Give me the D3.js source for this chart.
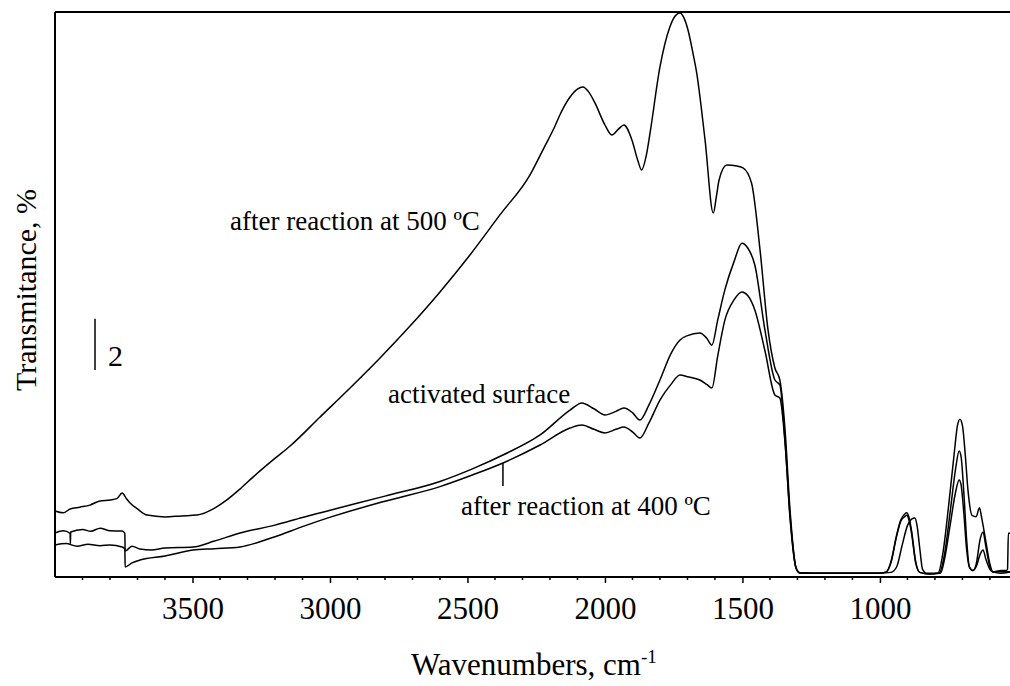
<!DOCTYPE html>
<html>
<head>
<meta charset="utf-8">
<script src="https://cdn.jsdelivr.net/npm/d3@7"></script>
<style>
  body { margin: 0; background: #fff; }
  text { font-family: "Liberation Serif", "Times New Roman", serif; fill: #000; }
</style>
</head>
<body>
<script>
// IR spectra, transmittance (%) vs wavenumber (cm-1)

var after500 = [
  [4000, 2.57], [3970, 2.50], [3945, 2.65], [3910, 2.72], [3873, 2.80], [3840, 2.95],
  [3800, 3.00], [3775, 3.05], [3756, 3.27], [3740, 3.05], [3727, 2.88], [3700, 2.65],
  [3665, 2.41], [3600, 2.34], [3540, 2.38], [3484, 2.41], [3418, 2.69], [3375, 3.00],
  [3330, 3.40], [3280, 3.89], [3207, 4.56], [3145, 5.10], [3036, 6.23], [2927, 7.36],
  [2818, 8.53], [2709, 9.77], [2600, 11.10], [2491, 12.54], [2382, 14.10], [2273, 15.65],
  [2220, 16.75], [2182, 17.55], [2164, 17.99], [2127, 18.69], [2100, 19.00], [2080, 19.08],
  [2060, 18.90], [2036, 18.45], [2000, 17.60], [1975, 17.21], [1950, 17.45], [1931, 17.60],
  [1902, 17.02], [1880, 16.20], [1867, 15.85], [1850, 16.40], [1836, 17.29], [1800, 19.86],
  [1764, 21.42], [1740, 21.90], [1727, 21.96], [1712, 21.75], [1698, 21.30], [1680, 20.40],
  [1667, 19.67], [1636, 17.02], [1606, 14.17], [1595, 14.80], [1585, 15.46], [1557, 16.04],
  [1520, 16.00], [1498, 15.93], [1467, 15.34], [1436, 12.73], [1407, 9.62], [1382, 8.14],
  [1364, 7.67], [1345, 5.72], [1327, 2.61], [1305, 0.35], [1291, 0.16], [1200, 0.15],
  [1100, 0.15], [1000, 0.15], [977, 0.20], [960, 0.60], [940, 1.60], [925, 2.20],
  [910, 2.45], [903, 2.50], [895, 2.35], [885, 1.80], [870, 0.60], [855, 0.18],
  [820, 0.12], [789, 0.15], [770, 1.00], [750, 2.80], [730, 4.80], [718, 5.90],
  [709, 6.14], [700, 5.90], [690, 4.80], [680, 3.40], [665, 2.40], [650, 2.35],
  [638, 2.70], [630, 2.30], [615, 1.40], [600, 0.50], [590, 0.20], [560, 0.15], [527, 0.20]
];

var activated = [
  [4000, 1.71], [3970, 1.80], [3945, 1.70], [3944, 1.30], [3943, 1.75], [3900, 1.85],
  [3870, 1.78], [3836, 1.90], [3800, 1.80], [3756, 1.79], [3746, 1.70], [3745, 1.01],
  [3720, 1.20], [3691, 1.09], [3650, 1.05], [3600, 1.13], [3498, 1.17], [3420, 1.40],
  [3327, 1.71], [3200, 2.02], [3100, 2.32], [2996, 2.61], [2800, 3.15], [2600, 3.72],
  [2480, 4.22], [2371, 4.75], [2236, 5.53], [2127, 6.50], [2084, 6.78], [2040, 6.55],
  [2000, 6.31], [1960, 6.45], [1931, 6.58], [1900, 6.40], [1873, 6.11], [1840, 6.70],
  [1800, 7.67], [1760, 8.70], [1727, 9.23], [1700, 9.40], [1655, 9.50], [1630, 9.30],
  [1611, 9.03], [1590, 10.00], [1564, 11.18], [1530, 12.30], [1502, 13.00], [1480, 12.80],
  [1455, 12.15], [1418, 9.60], [1382, 7.67], [1364, 7.48], [1345, 5.30], [1327, 2.40],
  [1305, 0.35], [1291, 0.16], [1200, 0.15], [1100, 0.15], [1000, 0.15], [977, 0.20],
  [960, 0.55], [940, 1.55], [925, 2.15], [910, 2.35], [903, 2.40], [895, 2.25],
  [885, 1.70], [870, 0.55], [855, 0.18], [820, 0.12], [785, 0.15], [765, 0.90],
  [745, 2.50], [725, 4.20], [712, 4.91], [705, 4.70], [695, 3.30], [685, 1.50],
  [675, 0.40], [662, 0.25], [650, 0.50], [635, 1.50], [625, 1.75], [615, 1.20],
  [600, 0.40], [590, 0.20], [560, 0.25], [540, 0.25], [536, 0.30], [533, 1.70], [527, 1.70]
];

var after400 = [
  [4000, 1.25], [3960, 1.30], [3920, 1.20], [3880, 1.28], [3836, 1.22], [3800, 1.25],
  [3756, 1.17], [3746, 1.10], [3745, 0.39], [3720, 0.55], [3691, 0.66], [3600, 0.82],
  [3498, 1.05], [3420, 1.10], [3327, 1.17], [3200, 1.57], [3100, 1.96], [2996, 2.34],
  [2800, 2.95], [2600, 3.52], [2480, 3.98], [2371, 4.44], [2236, 5.14], [2127, 5.80],
  [2084, 5.92], [2040, 5.75], [2000, 5.61], [1960, 5.75], [1931, 5.84], [1900, 5.65],
  [1873, 5.41], [1840, 6.00], [1800, 6.89], [1760, 7.50], [1727, 7.87], [1700, 7.80],
  [1655, 7.67], [1630, 7.50], [1611, 7.36], [1590, 8.60], [1564, 10.00], [1530, 10.80],
  [1502, 11.10], [1480, 10.95], [1455, 10.40], [1418, 8.80], [1382, 7.09], [1364, 6.97],
  [1345, 5.20], [1327, 2.30], [1305, 0.35], [1291, 0.16], [1200, 0.15], [1100, 0.15],
  [1000, 0.15], [960, 0.18], [939, 0.40], [920, 1.20], [900, 2.00], [885, 2.25],
  [873, 2.30], [865, 2.00], [855, 1.10], [845, 0.30], [830, 0.15], [780, 0.15],
  [765, 0.70], [745, 2.00], [725, 3.30], [712, 3.78], [705, 3.60], [695, 2.50],
  [685, 1.10], [675, 0.40], [662, 0.25], [650, 0.40], [635, 0.90], [625, 1.05],
  [615, 0.70], [600, 0.30], [590, 0.20], [560, 0.20], [527, 0.20]
];

var majorTicks = [3500, 3000, 2500, 2000, 1500, 1000];
var minorTicks = d3.range(3900, 599, -100);

window.onload = function(){
  var W = 1010, H = 686;
  var left = 55, right = 1010, top = 12, bottom = 577;

  var svg = d3.select("body").append("svg")
      .attr("width", W)
      .attr("height", H);

  var x = d3.scaleLinear().domain([4000, 527]).range([left, right]);
  var y = d3.scaleLinear().domain([0, 22]).range([bottom, top]);

  var line = d3.line()
      .x(function(d){ return x(d[0]); })
      .y(function(d){ return y(d[1]); })
      .curve(d3.curveMonotoneX);

  [after500, activated, after400].forEach(function(s){
    svg.append("path")
      .datum(s)
      .attr("d", line)
      .attr("fill", "none")
      .attr("stroke", "#000")
      .attr("stroke-width", 1.5);
  });

  // frame: left and top, no right border
  svg.append("line").attr("x1", left).attr("x2", left).attr("y1", top).attr("y2", bottom)
    .attr("stroke", "#000").attr("stroke-width", 2);
  svg.append("line").attr("x1", left).attr("x2", right).attr("y1", top).attr("y2", top)
    .attr("stroke", "#000").attr("stroke-width", 2);

  // bottom axis with majors + minors
  var xAxis = d3.axisBottom(x).tickValues(majorTicks).tickSize(6).tickPadding(14)
      .tickFormat(d3.format("d"));
  var ax = svg.append("g").attr("transform", "translate(0," + bottom + ")").call(xAxis);
  ax.select(".domain").attr("stroke-width", 2).attr("d", "M" + left + ",0H" + right);
  ax.selectAll(".tick line").attr("stroke-width", 1.5);
  ax.selectAll(".tick text")
    .style("font-family", "Liberation Serif, serif")
    .style("font-size", "31px");

  svg.append("g").selectAll("line")
    .data(minorTicks.filter(function(d){ return majorTicks.indexOf(d) < 0; }))
    .enter().append("line")
    .attr("x1", function(d){ return x(d); })
    .attr("x2", function(d){ return x(d); })
    .attr("y1", bottom)
    .attr("y2", bottom + 3)
    .attr("stroke", "#000")
    .attr("stroke-width", 1.5);

  // axis titles
  var xt = svg.append("text")
    .attr("x", 411).attr("y", 675)
    .style("font-size", "31px")
    .text("Wavenumbers, cm");
  xt.append("tspan").attr("dy", -12).style("font-size", "19px").text("-1");

  svg.append("text")
    .attr("transform", "translate(36,290) rotate(-90)")
    .attr("text-anchor", "middle")
    .style("font-size", "30px")
    .text("Transmitance, %");

  // scale bar: 2 %
  var barBase = 370;
  svg.append("line")
    .attr("x1", 95).attr("x2", 95)
    .attr("y1", barBase - (y(0) - y(2))).attr("y2", barBase)
    .attr("stroke", "#000").attr("stroke-width", 1.5);
  svg.append("text").attr("x", 108).attr("y", 366).style("font-size", "30px").text("2");

  // curve labels
  svg.append("text").attr("x", 230).attr("y", 230).style("font-size", "27px")
    .text("after reaction at 500 ºC");
  svg.append("text").attr("x", 388).attr("y", 403).style("font-size", "27px")
    .text("activated surface");
  svg.append("text").attr("x", 461).attr("y", 515).style("font-size", "27px")
    .text("after reaction at 400 ºC");
  svg.append("line")
    .attr("x1", x(2371)).attr("x2", x(2371))
    .attr("y1", 463).attr("y2", 486)
    .attr("stroke", "#000").attr("stroke-width", 1.5);
};
</script>
</body>
</html>
